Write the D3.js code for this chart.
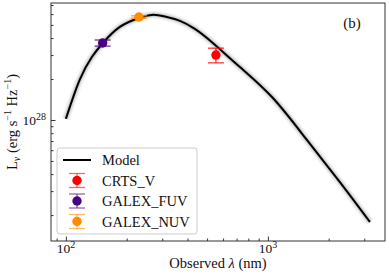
<!DOCTYPE html>
<html>
<head>
<meta charset="utf-8">
<script src="https://cdn.jsdelivr.net/npm/d3@7.9.0/dist/d3.min.js"></script>
<style>
  body { margin: 0; background: #fff; }
  svg text { font-family: "Liberation Serif", "DejaVu Serif", serif; fill: #111; }
</style>
</head>
<body>
<svg width="389" height="275"></svg>
<script>
// model SED (wavelength in nm, L_nu in erg/s/Hz)
const modelWave = [100, 117, 134.5, 152.5, 185, 230, 266.6, 309, 367, 435, 534, 727, 1059, 1560, 2272, 3200];
const modelLum  = [1.02e28, 1.97e28, 2.9e28, 3.68e28, 4.83e28, 5.62e28, 5.92e28, 5.77e28, 5.35e28, 4.67e28, 3.68e28, 2.45e28, 1.45e28, 7.13e27, 3.5e27, 1.78e27];

// photometry
const bands    = ["CRTS_V", "GALEX_FUV", "GALEX_NUV"];
const bandWave = [553, 152, 230];
const bandLum  = [3.0e28, 3.68e28, 5.71e28];
const bandErr  = [0.37e28, 0.19e28, 0.12e28];
const bandCol  = ["#ff0000", "#4b0082", "#ff8c00"];

const xTicks = [100, 1000];
const yTicks = [1e28];

const svg = d3.select("svg");
const mLeft = 51, mRight = 385, mTop = 3, mBottom = 241;

const x = d3.scaleLog().domain([84.4, 3800]).range([mLeft, mRight]);
const y = d3.scaleLog().domain([1.29e27, 7.24e28]).range([mBottom, mTop]);

// model band + line
const pts = modelWave.map((w, i) => [x(w), y(modelLum[i])]);
const line = d3.line().curve(d3.curveNatural);
[[9, 0.05], [7, 0.07], [5, 0.1], [3.5, 0.18]].forEach(([w, o]) => {
  svg.append("path").attr("d", line(pts)).attr("fill", "none")
    .attr("stroke", "#666").attr("stroke-opacity", o).attr("stroke-width", w);
});
svg.append("path").attr("d", line(pts)).attr("fill", "none")
  .attr("stroke", "#000").attr("stroke-width", 2);

// error bars + markers
const cap = 8;
bands.forEach((b, i) => {
  const g = svg.append("g");
  const cx = x(bandWave[i]);
  const y1 = y(bandLum[i] + bandErr[i]), y0 = y(bandLum[i] - bandErr[i]);
  g.append("line").attr("x1", cx).attr("x2", cx).attr("y1", y0).attr("y2", y1)
    .attr("stroke", bandCol[i]).attr("stroke-opacity", 0.8).attr("stroke-width", 1.3);
  [y0, y1].forEach(yy => g.append("line").attr("x1", cx - cap).attr("x2", cx + cap)
    .attr("y1", yy).attr("y2", yy).attr("stroke", bandCol[i]).attr("stroke-opacity", 0.8).attr("stroke-width", 1.3));
  g.append("circle").attr("cx", cx).attr("cy", y(bandLum[i])).attr("r", 4.7).attr("fill", bandCol[i]);
});

// axes (ticks inward)
const xAxis = d3.axisBottom(x).tickValues(x.ticks()).tickSizeOuter(0).tickFormat("")
  .tickSizeInner(-2.5);
const gx = svg.append("g").attr("transform", `translate(0,${mBottom})`).call(xAxis);
gx.selectAll(".tick line").filter(d => xTicks.includes(d)).attr("y2", -4.5);
gx.select(".domain").remove();
gx.selectAll(".tick line").attr("stroke", "#333");

const yAxis = d3.axisLeft(y).tickValues(y.ticks()).tickSizeOuter(0).tickFormat("")
  .tickSizeInner(-2.5);
const gy = svg.append("g").attr("transform", `translate(${mLeft},0)`).call(yAxis);
gy.selectAll(".tick line").filter(d => yTicks.includes(d)).attr("x2", 4.5);
gy.select(".domain").remove();
gy.selectAll(".tick line").attr("stroke", "#333");

svg.append("rect").attr("x", mLeft).attr("y", mTop).attr("width", mRight - mLeft).attr("height", mBottom - mTop)
  .attr("fill", "none").attr("stroke", "#333").attr("stroke-width", 1);

// tick labels
xTicks.forEach(v => {
  const t = svg.append("text").attr("x", x(v)).attr("y", 253).attr("text-anchor", "middle")
    .attr("font-size", 13.5);
  t.append("tspan").text("10");
  t.append("tspan").attr("dy", -5).attr("font-size", 10).text(Math.round(Math.log10(v)));
});
yTicks.forEach(v => {
  const t = svg.append("text").attr("x", mLeft - 5).attr("y", y(v) + 5).attr("text-anchor", "end")
    .attr("font-size", 13.5);
  t.append("tspan").text("10");
  t.append("tspan").attr("dy", -5).attr("font-size", 10).text(Math.round(Math.log10(v)));
});

// axis labels
const xl = svg.append("text").attr("x", 218).attr("y", 268).attr("text-anchor", "middle")
  .attr("font-size", 14.5);
xl.append("tspan").text("Observed ");
xl.append("tspan").attr("font-style", "italic").text("λ");
xl.append("tspan").text(" (nm)");

const yl = svg.append("text").attr("transform", `translate(17,122) rotate(-90)`)
  .attr("text-anchor", "middle").attr("font-size", 14.5);
yl.append("tspan").text("L");
yl.append("tspan").attr("dy", 3).attr("font-size", 10).attr("font-style", "italic").text("ν");
yl.append("tspan").attr("dy", -3).text(" (erg s");
yl.append("tspan").attr("dy", -6).attr("font-size", 10).text("−1");
yl.append("tspan").attr("dy", 6).text(" Hz");
yl.append("tspan").attr("dy", -6).attr("font-size", 10).text("−1");
yl.append("tspan").attr("dy", 6).text(")");

svg.append("text").attr("x", 352).attr("y", 28).attr("text-anchor", "middle").attr("font-size", 15).text("(b)");

// legend
const lg = svg.append("g");
lg.append("rect").attr("x", 57).attr("y", 148).attr("width", 140).attr("height", 86).attr("rx", 3)
  .attr("fill", "#fff").attr("fill-opacity", 0.8).attr("stroke", "#ccc").attr("stroke-width", 1);
lg.append("line").attr("x1", 63).attr("x2", 91).attr("y1", 160).attr("y2", 160)
  .attr("stroke", "#000").attr("stroke-width", 2);
lg.append("text").attr("x", 102).attr("y", 165).attr("font-size", 14.5).text("Model");
bands.forEach((b, i) => {
  const cy = 180.5 + i * 20.5;
  lg.append("line").attr("x1", 77).attr("x2", 77).attr("y1", cy - 7).attr("y2", cy + 7)
    .attr("stroke", bandCol[i]).attr("stroke-opacity", 0.6).attr("stroke-width", 1.3);
  [cy - 7, cy + 7].forEach(yy => lg.append("line").attr("x1", 69).attr("x2", 85).attr("y1", yy).attr("y2", yy)
    .attr("stroke", bandCol[i]).attr("stroke-opacity", 0.6).attr("stroke-width", 1.3));
  lg.append("circle").attr("cx", 77).attr("cy", cy).attr("r", 4.7).attr("fill", bandCol[i]);
  lg.append("text").attr("x", 102).attr("y", cy + 5).attr("font-size", 14.5).text(b);
});
</script>
</body>
</html>
